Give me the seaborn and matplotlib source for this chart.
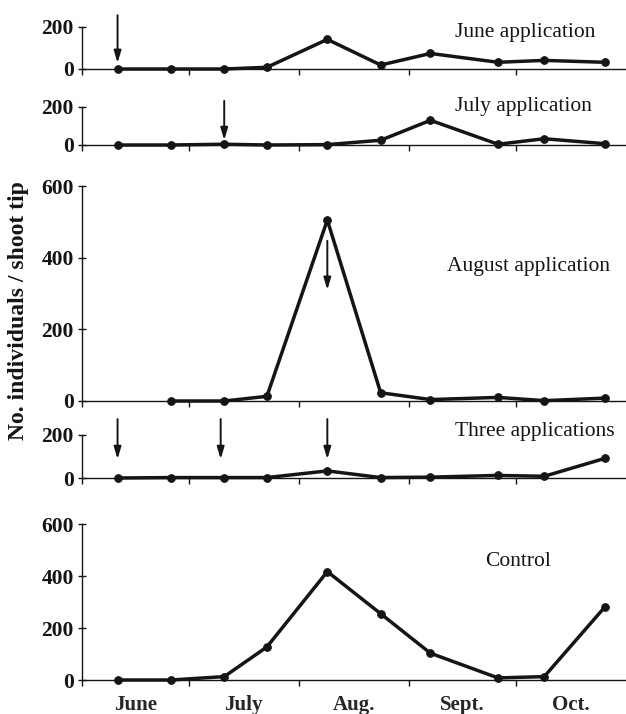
import numpy as np
import pandas as pd
import matplotlib
matplotlib.use("Agg")
import matplotlib.pyplot as plt
import seaborn as sns

# ---- data -------------------------------------------------------------
sample_day = [10, 25, 40, 52, 69, 84, 98, 117, 130, 147]   # days since 1 June
june_app = [0, 0, 0, 8, 141, 19, 74, 32, 41, 32]
july_app = [0, 0, 4, 0, 2, 25, 130, 4, 33, 7]
aug_app = [np.nan, 0, 0, 13, 505, 23, 4, 10, 1, 8]
three_app = [0, 2, 2, 2, 33, 2, 4, 12, 8, 91]
control = [0, 0, 13, 127, 417, 255, 103, 8, 13, 280]

panel_names = ["June application", "July application", "August application",
               "Three applications", "Control"]
panel_series = [june_app, july_app, aug_app, three_app, control]
panel_ymax = [200, 200, 600, 200, 600]
application_days = [[10], [40], [69], [10, 39, 69], []]
month_names = ["June", "July", "Aug.", "Sept.", "Oct."]
month_days = [30, 31, 31, 30, 31]
y_label = "No. individuals / shoot tip"

# ---- layout (pixels in a 626 x 714 figure) ------------------------------
W, H = 626, 714
ax_px = [(27, 69), (107, 145), (186, 401), (435, 478), (524, 680)]  # top, bottom
ax_left = 82
arrow_span = [(1.28, 0.145), (1.16, 0.13), (0.745, 0.517), (1.37, 0.44), None]
title_px = [(455, 32), (455, 107), (447, 267), (455, 432), (485, 562)]

sns.set_style("ticks")
plt.rcParams["font.family"] = ["Liberation Serif", "DejaVu Serif"]
plt.rcParams["axes.linewidth"] = 1.0

fig = plt.figure(figsize=(W / 100, H / 100), dpi=100)

month_edges = np.concatenate([[0], np.cumsum(month_days)])
month_mid = (month_edges[:-1] + month_edges[1:]) / 2
ink = "#151515"

for i, (name, vals, ymax) in enumerate(zip(panel_names, panel_series, panel_ymax)):
    top, bot = ax_px[i]
    ax = fig.add_axes([ax_left / W, 1 - bot / H, 1 - ax_left / W, (bot - top) / H])
    df = pd.DataFrame({"day": sample_day, "n": vals}).dropna()
    sns.lineplot(data=df, x="day", y="n", ax=ax, color=ink, lw=2.5,
                 marker="o", markersize=5.5, markeredgecolor=ink,
                 markerfacecolor=ink, clip_on=False, zorder=5)
    ax.set_xlim(month_edges[0], month_edges[-1])
    ax.set_ylim(0, ymax)
    ax.set_yticks(np.arange(0, ymax + 1, 200))
    ax.set_xticks(month_edges[:-1])
    ax.set_xticklabels([])
    ax.tick_params(axis="y", direction="inout", length=6, width=1, pad=3,
                   labelsize=15.5, colors=ink)
    ax.tick_params(axis="x", which="major", direction="out", length=4, width=1,
                   colors=ink)
    for lab in ax.get_yticklabels():
        lab.set_fontweight("bold")
    ax.set_xlabel("")
    ax.set_ylabel("")
    sns.despine(ax=ax)
    ax.spines["left"].set_color(ink)
    ax.spines["bottom"].set_color(ink)
    ax.patch.set_alpha(0)

    if arrow_span[i] is not None:
        t, b = arrow_span[i]
        for d in application_days[i]:
            ax.annotate("", xy=(d, b * ymax), xytext=(d, t * ymax),
                        arrowprops=dict(arrowstyle="-|>,head_length=0.6,head_width=0.18",
                                        color=ink, lw=1.4, shrinkA=0, shrinkB=0,
                                        mutation_scale=12),
                        annotation_clip=False)

    tx, ty = title_px[i]
    fig.text(tx / W, 1 - ty / H, name, ha="left", va="center",
             fontsize=15.5, color=ink)

    if i == len(panel_names) - 1:
        ax.set_xticks(month_mid, minor=True)
        ax.set_xticklabels(month_names, minor=True)
        ax.tick_params(axis="x", which="minor", length=0, pad=11, labelsize=15)
        for lab in ax.get_xticklabels(minor=True):
            lab.set_fontweight("bold")

fig.text(19 / W, 1 - 311 / H, y_label, rotation=90, ha="center", va="center",
         fontsize=17, fontweight="bold", color=ink)

fig.savefig("out.png", dpi=100)
